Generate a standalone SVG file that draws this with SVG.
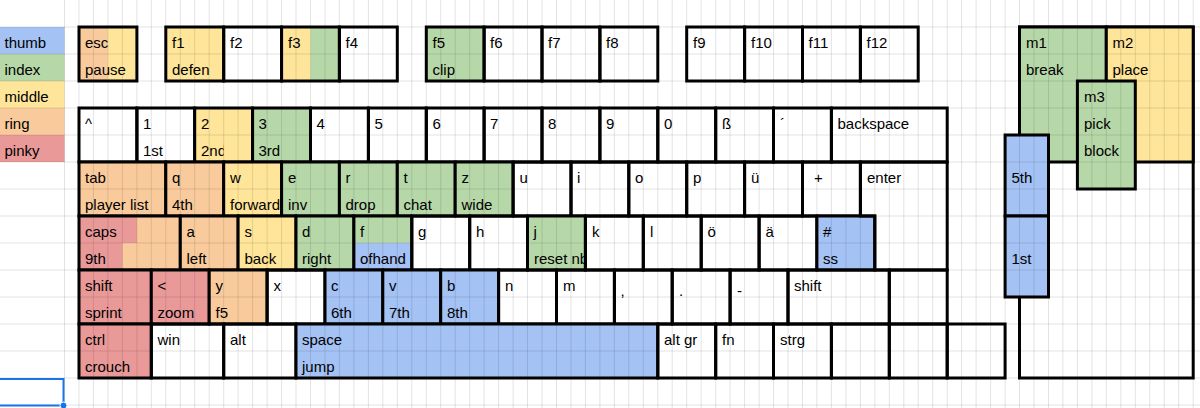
<svg xmlns="http://www.w3.org/2000/svg" width="1200" height="408" viewBox="0 0 1200 408">
<style>
.t{font-family:"Liberation Sans",Arial,sans-serif;font-size:15px;fill:#000}
.k{fill:none;stroke:#000;stroke-width:3}
.o{fill:#f9cb9c}.y{fill:#ffe599}.g{fill:#b6d7a8}.b{fill:#a4c2f4}.r{fill:#ea9999}.w{fill:#fff}
.grid{fill:none;stroke:#000;stroke-opacity:0.11;stroke-width:1}
</style>
<defs>
<clipPath id="c2nd"><rect x="194.7" y="140" width="29" height="22"/></clipPath>
<clipPath id="cfwd"><rect x="223.7" y="189" width="56.4" height="27"/></clipPath>
<clipPath id="crst"><rect x="527.5" y="243" width="56.4" height="27"/></clipPath>
</defs>
<rect x="0" y="0" width="1200" height="408" fill="#fff"/>

<g id="legend">
<g id="leg-thumb"><rect class="b" x="0" y="27" width="64.5" height="27"/><text class="t" x="4.5" y="48">thumb</text></g>
<g id="leg-index"><rect class="g" x="0" y="54" width="64.5" height="27"/><text class="t" x="4.5" y="75">index</text></g>
<g id="leg-middle"><rect class="y" x="0" y="81" width="64.5" height="27"/><text class="t" x="4.5" y="102">middle</text></g>
<g id="leg-ring"><rect class="o" x="0" y="108" width="64.5" height="27"/><text class="t" x="4.5" y="129">ring</text></g>
<g id="leg-pinky"><rect class="r" x="0" y="135" width="64.5" height="27"/><text class="t" x="4.5" y="156">pinky</text></g>
</g>

<g id="frow">
<g id="k-esc"><rect class="o" x="79" y="27" width="28.9" height="54"/><rect class="y" x="107.9" y="27" width="29" height="54"/><rect class="k" x="79" y="27" width="57.9" height="54"/><text class="t" x="85" y="48">esc</text><text class="t" x="85" y="75">pause</text></g>
<g id="k-f1"><rect class="y" x="165.8" y="27" width="57.9" height="54"/><rect class="k" x="165.8" y="27" width="57.9" height="54"/><text class="t" x="172" y="48">f1</text><text class="t" x="172" y="75">defen</text></g>
<g id="k-f2"><rect class="k" x="223.7" y="27" width="57.9" height="54"/><text class="t" x="230" y="48">f2</text></g>
<g id="k-f3"><rect class="y" x="281.6" y="27" width="28.9" height="54"/><rect class="g" x="310.5" y="27" width="28.9" height="54"/><rect class="k" x="281.6" y="27" width="57.8" height="54"/><text class="t" x="288" y="48">f3</text></g>
<g id="k-f4"><rect class="k" x="339.4" y="27" width="57.9" height="54"/><text class="t" x="345.5" y="48">f4</text></g>
<g id="k-f5"><rect class="g" x="426.3" y="27" width="57.8" height="54"/><rect class="k" x="426.3" y="27" width="57.8" height="54"/><text class="t" x="432.5" y="48">f5</text><text class="t" x="432.5" y="75">clip</text></g>
<g id="k-f6"><rect class="k" x="484.1" y="27" width="57.9" height="54"/><text class="t" x="490" y="48">f6</text></g>
<g id="k-f7"><rect class="k" x="542" y="27" width="57.9" height="54"/><text class="t" x="548" y="48">f7</text></g>
<g id="k-f8"><rect class="k" x="599.9" y="27" width="57.9" height="54"/><text class="t" x="606" y="48">f8</text></g>
<g id="k-f9"><rect class="k" x="686.7" y="27" width="57.9" height="54"/><text class="t" x="693" y="48">f9</text></g>
<g id="k-f10"><rect class="k" x="744.6" y="27" width="57.9" height="54"/><text class="t" x="751" y="48">f10</text></g>
<g id="k-f11"><rect class="k" x="802.5" y="27" width="57.9" height="54"/><text class="t" x="808.5" y="48">f11</text></g>
<g id="k-f12"><rect class="k" x="860.4" y="27" width="57.8" height="54"/><text class="t" x="866.5" y="48">f12</text></g>
</g>

<g id="numrow">
<g id="k-caret"><rect class="k" x="79" y="108" width="57.9" height="54"/><text class="t" x="85" y="129">^</text></g>
<g id="k-1"><rect class="k" x="136.9" y="108" width="57.8" height="54"/><text class="t" x="143" y="129">1</text><text class="t" x="143" y="156">1st</text></g>
<g id="k-2"><rect class="y" x="194.7" y="108" width="57.9" height="54"/><rect class="k" x="194.7" y="108" width="57.9" height="54"/><text class="t" x="201" y="129">2</text><text class="t" x="201" y="156" clip-path="url(#c2nd)">2nd</text></g>
<g id="k-3"><rect class="g" x="252.6" y="108" width="57.9" height="54"/><rect class="k" x="252.6" y="108" width="57.9" height="54"/><text class="t" x="258.5" y="129">3</text><text class="t" x="258.5" y="156">3rd</text></g>
<g id="k-4"><rect class="k" x="310.5" y="108" width="57.9" height="54"/><text class="t" x="316.5" y="129">4</text></g>
<g id="k-5"><rect class="k" x="368.4" y="108" width="57.9" height="54"/><text class="t" x="374.5" y="129">5</text></g>
<g id="k-6"><rect class="k" x="426.3" y="108" width="57.8" height="54"/><text class="t" x="432.5" y="129">6</text></g>
<g id="k-7"><rect class="k" x="484.1" y="108" width="57.9" height="54"/><text class="t" x="490" y="129">7</text></g>
<g id="k-8"><rect class="k" x="542" y="108" width="57.9" height="54"/><text class="t" x="548" y="129">8</text></g>
<g id="k-9"><rect class="k" x="599.9" y="108" width="57.9" height="54"/><text class="t" x="606" y="129">9</text></g>
<g id="k-0"><rect class="k" x="657.8" y="108" width="57.9" height="54"/><text class="t" x="664" y="129">0</text></g>
<g id="k-sz"><rect class="k" x="715.7" y="108" width="57.8" height="54"/><text class="t" x="722" y="129">ß</text></g>
<g id="k-acute"><rect class="k" x="773.5" y="108" width="57.9" height="54"/><text class="t" x="780" y="129">´</text></g>
<g id="k-backspace"><rect class="k" x="831.4" y="108" width="115.8" height="54"/><text class="t" x="837.5" y="129">backspace</text></g>
</g>

<g id="tabrow">
<g id="k-tab"><rect class="o" x="79" y="162" width="86.8" height="54"/><rect class="k" x="79" y="162" width="86.8" height="54"/><text class="t" x="85" y="183">tab</text><text class="t" x="85" y="210">player list</text></g>
<g id="k-q"><rect class="o" x="165.8" y="162" width="57.9" height="54"/><rect class="k" x="165.8" y="162" width="57.9" height="54"/><text class="t" x="172" y="183">q</text><text class="t" x="172" y="210">4th</text></g>
<g id="k-w"><rect class="y" x="223.7" y="162" width="57.9" height="54"/><rect class="k" x="223.7" y="162" width="57.9" height="54"/><text class="t" x="230" y="183">w</text><text class="t" x="230" y="210" clip-path="url(#cfwd)">forward</text></g>
<g id="k-e"><rect class="g" x="281.6" y="162" width="57.8" height="54"/><rect class="k" x="281.6" y="162" width="57.8" height="54"/><text class="t" x="288" y="183">e</text><text class="t" x="288" y="210">inv</text></g>
<g id="k-r"><rect class="g" x="339.4" y="162" width="57.9" height="54"/><rect class="k" x="339.4" y="162" width="57.9" height="54"/><text class="t" x="345.5" y="183">r</text><text class="t" x="345.5" y="210">drop</text></g>
<g id="k-t"><rect class="g" x="397.3" y="162" width="57.9" height="54"/><rect class="k" x="397.3" y="162" width="57.9" height="54"/><text class="t" x="403.5" y="183">t</text><text class="t" x="403.5" y="210">chat</text></g>
<g id="k-z"><rect class="g" x="455.2" y="162" width="57.9" height="54"/><rect class="k" x="455.2" y="162" width="57.9" height="54"/><text class="t" x="461.5" y="183">z</text><text class="t" x="461.5" y="210">wide</text></g>
<g id="k-u"><rect class="k" x="513.1" y="162" width="57.9" height="54"/><text class="t" x="519.5" y="183">u</text></g>
<g id="k-i"><rect class="k" x="571" y="162" width="57.8" height="54"/><text class="t" x="577" y="183">i</text></g>
<g id="k-o"><rect class="k" x="628.8" y="162" width="57.9" height="54"/><text class="t" x="635" y="183">o</text></g>
<g id="k-p"><rect class="k" x="686.7" y="162" width="57.9" height="54"/><text class="t" x="693" y="183">p</text></g>
<g id="k-ue"><rect class="k" x="744.6" y="162" width="57.9" height="54"/><text class="t" x="751" y="183">ü</text></g>
<g id="k-plus"><rect class="k" x="802.5" y="162" width="57.9" height="54"/><text class="t" x="814" y="183">+</text></g>
</g>

<g id="capsrow">
<g id="k-caps"><rect class="o" x="79" y="216" width="101.3" height="54"/><rect class="r" x="79" y="216" width="57.9" height="27"/><rect class="r" x="79" y="243" width="43.4" height="27"/><rect class="k" x="79" y="216" width="101.3" height="54"/><text class="t" x="85" y="237">caps</text><text class="t" x="85" y="264">9th</text></g>
<g id="k-a"><rect class="o" x="180.3" y="216" width="57.8" height="54"/><rect class="k" x="180.3" y="216" width="57.8" height="54"/><text class="t" x="186.5" y="237">a</text><text class="t" x="186.5" y="264">left</text></g>
<g id="k-s"><rect class="y" x="238.1" y="216" width="57.9" height="54"/><rect class="k" x="238.1" y="216" width="57.9" height="54"/><text class="t" x="244.5" y="237">s</text><text class="t" x="244.5" y="264">back</text></g>
<g id="k-d"><rect class="g" x="296" y="216" width="57.9" height="54"/><rect class="k" x="296" y="216" width="57.9" height="54"/><text class="t" x="302" y="237">d</text><text class="t" x="302" y="264">right</text></g>
<g id="k-f"><rect class="g" x="353.9" y="216" width="57.9" height="27"/><rect class="b" x="353.9" y="243" width="57.9" height="27"/><rect class="k" x="353.9" y="216" width="57.9" height="54"/><text class="t" x="360" y="237">f</text><text class="t" x="360" y="264">ofhand</text></g>
<g id="k-g"><rect class="k" x="411.8" y="216" width="57.9" height="54"/><text class="t" x="418" y="237">g</text></g>
<g id="k-h"><rect class="k" x="469.7" y="216" width="57.8" height="54"/><text class="t" x="476" y="237">h</text></g>
<g id="k-j"><rect class="g" x="527.5" y="216" width="57.9" height="54"/><rect class="k" x="527.5" y="216" width="57.9" height="54"/><text class="t" x="533.5" y="237">j</text><text class="t" x="534" y="264" clip-path="url(#crst)">reset nb</text></g>
<g id="k-k"><rect class="k" x="585.4" y="216" width="57.9" height="54"/><text class="t" x="592" y="237">k</text></g>
<g id="k-l"><rect class="k" x="643.3" y="216" width="57.9" height="54"/><text class="t" x="650" y="237">l</text></g>
<g id="k-oe"><rect class="k" x="701.2" y="216" width="57.9" height="54"/><text class="t" x="707.5" y="237">ö</text></g>
<g id="k-ae"><rect class="k" x="759.1" y="216" width="57.8" height="54"/><text class="t" x="765.5" y="237">ä</text></g>
<g id="k-hash"><rect class="b" x="816.9" y="216" width="57.9" height="54"/><rect class="k" x="816.9" y="216" width="57.9" height="54"/><text class="t" x="823" y="237">#</text><text class="t" x="823" y="264">ss</text></g>
<g id="k-enter"><polygon class="k" points="860.4,162 947.2,162 947.2,270 874.8,270 874.8,216 860.4,216"/><text class="t" x="867" y="183">enter</text></g>
</g>

<g id="shiftrow">
<g id="k-shift"><rect class="r" x="79" y="270" width="72.3" height="54"/><rect class="k" x="79" y="270" width="72.3" height="54"/><text class="t" x="85" y="291">shift</text><text class="t" x="85" y="318">sprint</text></g>
<g id="k-lt"><rect class="r" x="151.3" y="270" width="57.9" height="54"/><rect class="k" x="151.3" y="270" width="57.9" height="54"/><text class="t" x="157.5" y="291">&lt;</text><text class="t" x="157.5" y="318">zoom</text></g>
<g id="k-y"><rect class="o" x="209.2" y="270" width="57.9" height="54"/><rect class="k" x="209.2" y="270" width="57.9" height="54"/><text class="t" x="215.5" y="291">y</text><text class="t" x="215.5" y="318">f5</text></g>
<g id="k-x"><rect class="k" x="267.1" y="270" width="57.9" height="54"/><text class="t" x="273.5" y="291">x</text></g>
<g id="k-c"><rect class="b" x="325" y="270" width="57.8" height="54"/><rect class="k" x="325" y="270" width="57.8" height="54"/><text class="t" x="331" y="291">c</text><text class="t" x="331" y="318">6th</text></g>
<g id="k-v"><rect class="b" x="382.8" y="270" width="57.9" height="54"/><rect class="k" x="382.8" y="270" width="57.9" height="54"/><text class="t" x="389" y="291">v</text><text class="t" x="389" y="318">7th</text></g>
<g id="k-b"><rect class="b" x="440.7" y="270" width="57.9" height="54"/><rect class="k" x="440.7" y="270" width="57.9" height="54"/><text class="t" x="447" y="291">b</text><text class="t" x="447" y="318">8th</text></g>
<g id="k-n"><rect class="k" x="498.6" y="270" width="57.9" height="54"/><text class="t" x="505" y="291">n</text></g>
<g id="k-m"><rect class="k" x="556.5" y="270" width="57.9" height="54"/><text class="t" x="563" y="291">m</text></g>
<g id="k-comma"><rect class="k" x="614.4" y="270" width="57.8" height="54"/><text class="t" x="620.5" y="296">,</text></g>
<g id="k-dot"><rect class="k" x="672.2" y="270" width="57.9" height="54"/><text class="t" x="679" y="296">.</text></g>
<g id="k-minus"><rect class="k" x="730.1" y="270" width="57.9" height="54"/><text class="t" x="737" y="296">-</text></g>
<g id="k-rshift"><rect class="k" x="788" y="270" width="101.3" height="54"/><text class="t" x="794" y="291">shift</text></g>
<g id="k-blank1"><rect class="k" x="889.3" y="270" width="57.9" height="54"/></g>
</g>

<g id="ctrlrow">
<g id="k-ctrl"><rect class="r" x="79" y="324" width="72.3" height="54"/><rect class="k" x="79" y="324" width="72.3" height="54"/><text class="t" x="85" y="345">ctrl</text><text class="t" x="85" y="372">crouch</text></g>
<g id="k-win"><rect class="k" x="151.3" y="324" width="72.4" height="54"/><text class="t" x="157.5" y="345">win</text></g>
<g id="k-alt"><rect class="k" x="223.7" y="324" width="72.3" height="54"/><text class="t" x="230" y="345">alt</text></g>
<g id="k-space"><rect class="b" x="296" y="324" width="361.8" height="54"/><rect class="k" x="296" y="324" width="361.8" height="54"/><text class="t" x="302" y="345">space</text><text class="t" x="302" y="372">jump</text></g>
<g id="k-altgr"><rect class="k" x="657.8" y="324" width="57.9" height="54"/><text class="t" x="664" y="345">alt gr</text></g>
<g id="k-fn"><rect class="k" x="715.7" y="324" width="57.8" height="54"/><text class="t" x="722" y="345">fn</text></g>
<g id="k-strg"><rect class="k" x="773.5" y="324" width="57.9" height="54"/><text class="t" x="780" y="345">strg</text></g>
<g id="k-blank2"><rect class="k" x="831.4" y="324" width="57.9" height="54"/></g>
<g id="k-blank3"><rect class="k" x="889.3" y="324" width="57.9" height="54"/></g>
<g id="k-blank4"><rect class="k" x="947.2" y="324" width="57.9" height="54"/></g>
</g>

<g id="mouse">
<g id="m-body"><rect class="w" x="1019.5" y="27" width="173.7" height="351"/><rect class="k" x="1019.5" y="27" width="173.7" height="351"/></g>
<g id="m-1"><rect class="g" x="1019.5" y="27" width="86.8" height="135"/><rect class="k" x="1019.5" y="27" width="86.8" height="135"/><text class="t" x="1026" y="48">m1</text><text class="t" x="1026" y="75">break</text></g>
<g id="m-2"><rect class="y" x="1106.3" y="27" width="86.9" height="135"/><rect class="k" x="1106.3" y="27" width="86.9" height="135"/><text class="t" x="1112.5" y="48">m2</text><text class="t" x="1112.5" y="75">place</text></g>
<g id="m-3"><rect class="g" x="1077.4" y="81" width="57.9" height="108"/><rect class="k" x="1077.4" y="81" width="57.9" height="108"/><text class="t" x="1084" y="102">m3</text><text class="t" x="1084" y="129">pick</text><text class="t" x="1084" y="156">block</text></g>
<g id="m-5th"><rect class="b" x="1005.1" y="135" width="43.4" height="81"/><rect class="k" x="1005.1" y="135" width="43.4" height="81"/><text class="t" x="1011.5" y="183">5th</text></g>
<g id="m-1st"><rect class="b" x="1005.1" y="216" width="43.4" height="81"/><rect class="k" x="1005.1" y="216" width="43.4" height="81"/><text class="t" x="1011.5" y="264">1st</text></g>
</g>

<g id="connectors"></g>

<path class="grid" d="M64.5 0V408M79 0V408M93.4 0V408M107.9 0V408M122.4 0V408M136.9 0V408M151.3 0V408M165.8 0V408M180.3 0V408M194.7 0V408M209.2 0V408M223.7 0V408M238.1 0V408M252.6 0V408M267.1 0V408M281.6 0V408M296 0V408M310.5 0V408M325 0V408M339.4 0V408M353.9 0V408M368.4 0V408M382.8 0V408M397.3 0V408M411.8 0V408M426.3 0V408M440.7 0V408M455.2 0V408M469.7 0V408M484.1 0V408M498.6 0V408M513.1 0V408M527.5 0V408M542 0V408M556.5 0V408M571 0V408M585.4 0V408M599.9 0V408M614.4 0V408M628.8 0V408M643.3 0V408M657.8 0V408M672.2 0V408M686.7 0V408M701.2 0V408M715.7 0V408M730.1 0V408M744.6 0V408M759.1 0V408M773.5 0V408M788 0V408M802.5 0V408M816.9 0V408M831.4 0V408M845.9 0V408M860.4 0V408M874.8 0V408M889.3 0V408M903.8 0V408M918.2 0V408M932.7 0V408M947.2 0V408M961.6 0V408M976.1 0V408M990.6 0V408M1005.1 0V408M1019.5 0V408M1034 0V408M1048.5 0V408M1062.9 0V408M1077.4 0V408M1091.9 0V408M1106.3 0V408M1120.8 0V408M1135.3 0V408M1149.8 0V408M1164.2 0V408M1178.7 0V408M1193.2 0V408M0 27H1200M0 54H1200M0 81H1200M0 108H1200M0 135H1200M0 162H1200M0 189H1200M0 216H1200M0 243H1200M0 270H1200M0 297H1200M0 324H1200M0 351H1200M0 378H1200M0 405H1200"/>

<g id="selection">
<rect x="-1" y="379" width="64.5" height="26.5" fill="none" stroke="#1a73e8" stroke-width="2"/>
<circle cx="63.5" cy="405.5" r="3.5" fill="#1a73e8" stroke="#fff" stroke-width="1"/>
</g>
</svg>
